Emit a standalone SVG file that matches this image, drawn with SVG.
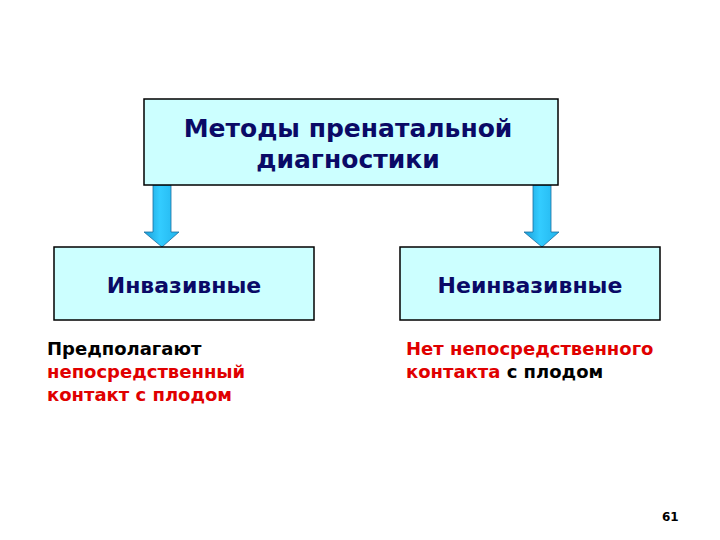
<svg xmlns="http://www.w3.org/2000/svg" width="720" height="540" viewBox="0 0 720 540">
<defs>
<linearGradient id="ag" x1="0" y1="0" x2="1" y2="0">
<stop offset="0" stop-color="#1a9ed8"/>
<stop offset="0.45" stop-color="#33ccff"/>
<stop offset="1" stop-color="#22b4ec"/>
</linearGradient>
<style>
.box{fill:#ccffff;stroke:#000;stroke-width:1.5}
.arrow{fill:url(#ag);stroke:#1d6fa0;stroke-width:0.8}
.t{font-family:"DejaVu Sans",Verdana,sans-serif;font-weight:bold}
.h{fill:#0a0a66;text-anchor:middle}
.red{fill:#e00000}
.blk{fill:#000}
</style>
</defs>
<rect width="720" height="540" fill="#fff"/>
<g id="connectors">
<path class="arrow" d="M153,185 H171 V232 H179 L162,247 L144,232 H153 Z"/>
<path class="arrow" d="M533,185 H551 V232 H559 L542,247 L524,232 H533 Z"/>
</g>
<g id="root">
<rect class="box" x="144" y="99" width="414" height="86"/>
<text class="t h" x="348" y="137" font-size="25">Методы пренатальной</text>
<text class="t h" x="348" y="168" font-size="25">диагностики</text>
</g>
<g id="invasive">
<rect class="box" x="54" y="247" width="260" height="73"/>
<text class="t h" x="184" y="293" font-size="22">Инвазивные</text>
</g>
<g id="noninvasive">
<rect class="box" x="400" y="247" width="260" height="73"/>
<text class="t h" x="530" y="293" font-size="22">Неинвазивные</text>
</g>
<g id="invasive-desc" class="t" font-size="18">
<text class="blk" x="47" y="355">Предполагают</text>
<text class="red" x="47" y="378">непосредственный</text>
<text class="red" x="47" y="401">контакт с плодом</text>
</g>
<g id="noninvasive-desc" class="t" font-size="18">
<text class="red" x="406" y="355">Нет непосредственного</text>
<text x="406" y="378"><tspan class="red">контакта</tspan><tspan class="blk"> с плодом</tspan></text>
</g>
<text class="t" x="662" y="521" font-size="12" fill="#000">61</text>
</svg>
